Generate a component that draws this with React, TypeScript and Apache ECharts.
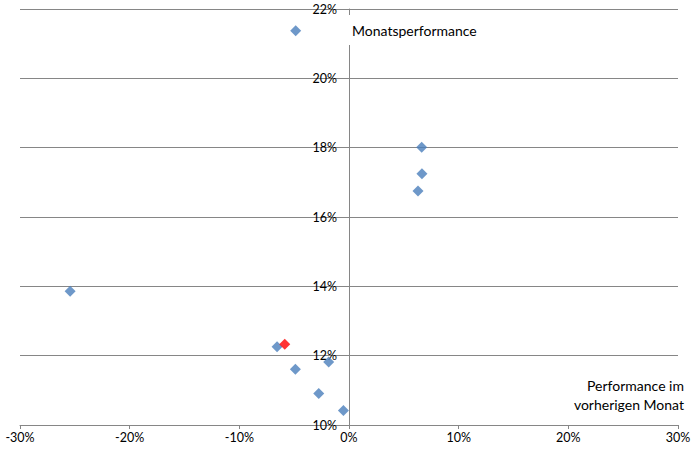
import { useEffect, useRef } from 'react'
import * as echarts from 'echarts'

// Performance im Vormonat (x, %) gegen Monatsperformance (y, %)
const prevMonth = [-4.86, 6.63, 6.65, 6.29, -25.43, -6.56, -4.89, -1.85, -2.76, -0.51]
const monthPerf = [21.37, 18.01, 17.25, 16.75, 13.86, 12.26, 11.61, 11.82, 10.91, 10.42]
// hervorgehobener Punkt (rot)
const highlightX = [-5.86]
const highlightY = [12.33]

const xTicks = { min: -30, max: 30, interval: 10 }
const yTicks = { min: 10, max: 22, interval: 2 }

const FONT = 'Lato, "Open Sans", sans-serif'
const GRAY = '#868686'
const GRID_LEFT = 20
const GRID_RIGHT = 18

export default function App() {
  const elRef = useRef<HTMLDivElement>(null)

  useEffect(() => {
    if (!elRef.current) return
    document.body.style.margin = '0'
    const chart = echarts.init(elRef.current, undefined, { renderer: 'svg' })
    // y-Achse sitzt bei x = 0: Abstand vom linken Rand des Plotbereichs
    const plotW = 696 - GRID_LEFT - GRID_RIGHT
    const zeroOffset = (plotW * (0 - xTicks.min)) / (xTicks.max - xTicks.min)
    chart.setOption({
      animation: false,
      backgroundColor: '#fff',
      grid: {
        left: GRID_LEFT,
        right: GRID_RIGHT,
        top: 9,
        bottom: 32,
        containLabel: false,
        outerBoundsMode: 'none',
      },
      xAxis: {
        type: 'value',
        ...xTicks,
        axisLine: { lineStyle: { color: GRAY, width: 1 } },
        axisTick: { show: true, length: 4, lineStyle: { color: GRAY } },
        splitLine: { show: false },
        axisLabel: {
          color: '#000',
          fontFamily: FONT,
          fontSize: 12.5,
          margin: 6,
          formatter: (v: number) => `${v}%`,
        },
      },
      yAxis: {
        type: 'value',
        ...yTicks,
        position: 'left',
        offset: -zeroOffset,
        axisLine: { show: true, onZero: false, lineStyle: { color: GRAY, width: 1 } },
        axisTick: { show: false },
        splitLine: { show: true, lineStyle: { color: GRAY, width: 1 } },
        axisLabel: {
          color: '#000',
          fontFamily: FONT,
          fontSize: 12.5,
          margin: 12,
          formatter: (v: number) => `${v}%`,
        },
      },
      graphic: [
        {
          type: 'text',
          z: 100,
          x: 347,
          y: 30,
          style: {
            text: 'Monatsperformance',
            fill: '#000',
            font: `14px ${FONT}`,
            verticalAlign: 'middle',
            align: 'left',
            backgroundColor: '#fff',
            padding: [8, 5, 8, 5],
          },
        },
        {
          type: 'text',
          z: 100,
          x: 684,
          y: 376,
          style: {
            text: 'Performance im\nvorherigen Monat',
            fill: '#000',
            font: `14px ${FONT}`,
            lineHeight: 19,
            verticalAlign: 'top',
            align: 'right',
          },
        },
      ],
      series: [
        {
          type: 'scatter',
          symbol: 'diamond',
          symbolSize: 11,
          itemStyle: { color: '#4A7EBB' },
          data: prevMonth.map((x, i) => [x, monthPerf[i]]),
        },
        {
          type: 'scatter',
          symbol: 'diamond',
          symbolSize: 11,
          itemStyle: { color: '#FF0000' },
          data: highlightX.map((x, i) => [x, highlightY[i]]),
        },
      ],
    })
    return () => {
      chart.dispose()
    }
  }, [])

  return <div ref={elRef} style={{ width: 696, height: 457 }} />
}
